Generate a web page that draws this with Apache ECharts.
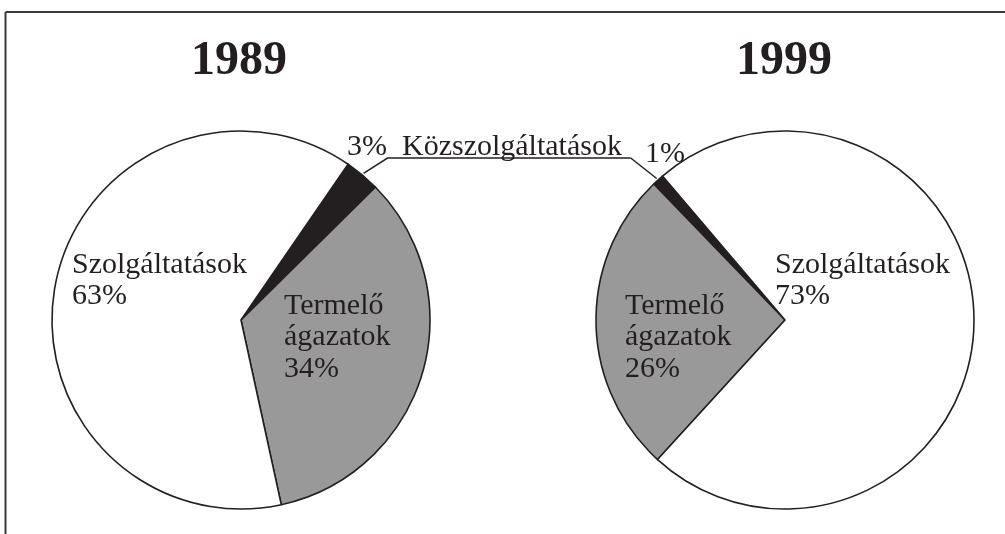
<!DOCTYPE html>
<html><head><meta charset="utf-8">
<script src="https://cdn.jsdelivr.net/npm/echarts@6/dist/echarts.min.js"></script>
<style>html,body{margin:0;padding:0;background:#fff}#c{width:1005px;height:534px}</style>
</head><body><div id="c"></div>
<script>
const years = ['1989', '1999'];
const categories = ['Közszolgáltatások', 'Termelő ágazatok', 'Szolgáltatások'];
const values1989 = [3, 34, 63];
const values1999 = [1, 26, 73];
const sharedLabel = 'Közszolgáltatások';

const INK = '#231f20';
const COLORS = [INK, '#999999', '#ffffff'];
const FONT = '"Liberation Serif", "Times New Roman", serif';
const R = 189;
const LEADER_Y = 158;

const pies = [
  { center: [241, 320], startAngle: 55.5, clockwise: true, values: values1989,
    labelPos: [[106, -189], [43, -30], [-169, -71]], titleX: 239 },
  { center: [785, 320], startAngle: 130.4, clockwise: false, values: values1999,
    labelPos: [[-140, -182], [-160, -30], [-10, -71]], titleX: 784 }
];

function edgePoint(p, idx) {
  const total = p.values.reduce((a, b) => a + b, 0);
  let cum = 0;
  for (let i = 0; i < idx; i++) cum += p.values[i];
  const mid = (cum + p.values[idx] / 2) / total * 360;
  const a = (p.startAngle + (p.clockwise ? -mid : mid)) * Math.PI / 180;
  return [p.center[0] + (R + 2) * Math.cos(a), p.center[1] - (R + 2) * Math.sin(a)];
}
const sL = edgePoint(pies[0], 0);
const sR = edgePoint(pies[1], 0);
const leaders = [
  [sL, [sL[0] + 24, LEADER_Y], [sR[0] - 26, LEADER_Y]],
  [sR, [sR[0] - 26, LEADER_Y], [sR[0] - 26, LEADER_Y]]
];

function fmt(si, i, name, v) {
  if (i === 0) return si === 0 ? v + '%  ' + sharedLabel : v + '%';
  return name.split(' ').join('\n') + '\n' + v + '%';
}

const chart = echarts.init(document.getElementById('c'), null, { renderer: 'canvas' });
chart.setOption({
  backgroundColor: '#ffffff',
  animation: false,
  title: years.map((y, si) => ({
    text: y, left: pies[si].titleX, top: 38, textAlign: 'center', padding: 0,
    textStyle: { fontFamily: FONT, fontSize: 48, fontWeight: 'bold', color: INK }
  })),
  graphic: [
    { type: 'line', shape: { x1: 5.5, y1: 12, x2: 1005, y2: 12 }, style: { stroke: '#3a3a3a', lineWidth: 2 } },
    { type: 'line', shape: { x1: 5.5, y1: 12, x2: 5.5, y2: 534 }, style: { stroke: '#3a3a3a', lineWidth: 2 } }
  ],
  series: pies.map((p, si) => ({
    type: 'pie',
    center: p.center,
    radius: R,
    startAngle: p.startAngle,
    clockwise: p.clockwise,
    avoidLabelOverlap: false,
    silent: true,
    emphasis: { disabled: true },
    itemStyle: { borderColor: INK, borderWidth: 1.6 },
    label: {
      show: true, position: 'inside', fontFamily: FONT, fontSize: 30, lineHeight: 31.5,
      color: INK, textBorderWidth: 0, align: 'left', verticalAlign: 'top'
    },
    labelLine: { show: false },
    data: categories.map((name, i) => ({
      name: name,
      value: p.values[i],
      itemStyle: { color: COLORS[i] },
      label: { position: i === 0 ? 'outside' : 'inside', formatter: fmt(si, i, name, p.values[i]) },
      labelLine: i === 0 ? { show: true, length: 10, length2: 10, lineStyle: { color: INK, width: 1.5 } } : { show: false }
    })),
    labelLayout: (params) => {
      const off = p.labelPos[params.dataIndex];
      const o = { x: p.center[0] + off[0], y: p.center[1] + off[1], align: 'left', verticalAlign: 'top' };
      if (params.dataIndex === 0) o.labelLinePoints = leaders[si];
      return o;
    }
  }))
});
</script></body></html>
